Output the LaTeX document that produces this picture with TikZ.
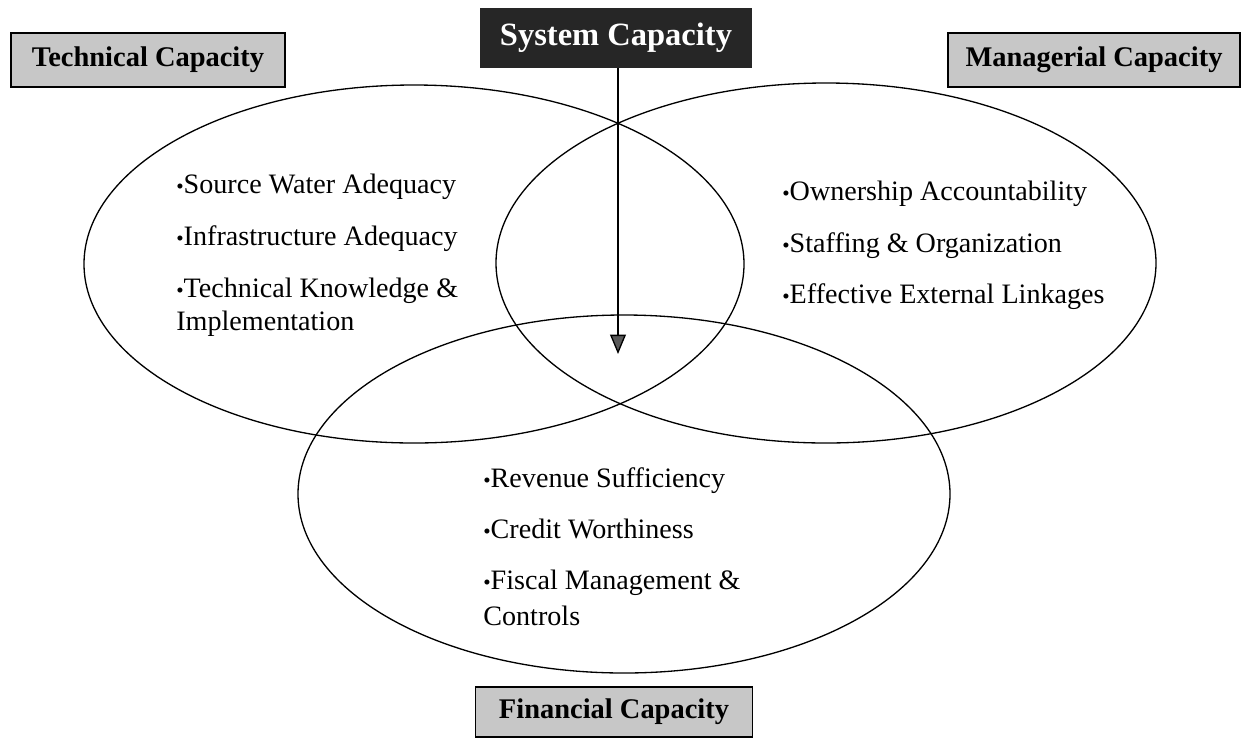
\documentclass[tikz,border=0pt]{standalone}
\usepackage{fontspec}
\setmainfont{Liberation Serif}
\usetikzlibrary{arrows.meta}

\newcommand{\itemdot}{{\fontsize{12}{12}\selectfont\textbullet}}

\tikzset{
  venn/.style={line width=0.75pt},
  capbox/.style={draw=black, line width=0.8pt, fill=black!22, inner sep=0pt,
    minimum height=1.08cm, font=\fontsize{16.2}{19}\selectfont\bfseries},
  sysbox/.style={fill=black!85, text=white, inner sep=0pt,
    minimum width=5.44cm, minimum height=1.2cm, font=\fontsize{18.5}{22}\selectfont\bfseries},
  item/.style={anchor=base west, inner sep=0pt, font=\fontsize{16}{19}\selectfont},
  flow/.style={line width=0.75pt, -{Triangle[width=9pt,length=11pt,fill=black!65]}}
}

\begin{document}
\begin{tikzpicture}[x=0.02cm, y=-0.02cm]
\useasboundingbox (0,0) rectangle (1241,738);

% the three capacities
\draw[venn] (414,264) ellipse [x radius=330, y radius=179];
\draw[venn] (826,263) ellipse [x radius=330, y radius=180];
\draw[venn] (624,494) ellipse [x radius=326, y radius=179];

% headings
\node[sysbox] (system) at (616,38) {System Capacity};
\node[capbox, minimum width=5.48cm] (technical) at (148,60) {Technical Capacity};
\node[capbox, minimum width=5.84cm] (managerial) at (1094,60) {Managerial Capacity};
\node[capbox, minimum width=5.54cm, minimum height=1cm] (financial) at (614,712) {Financial Capacity};

% system capacity points into the middle
\coordinate (centre) at (618,354);
\draw[flow] (system.south -| centre) -- (centre);

% technical
\node[item] (source) at (176,193) {\itemdot Source Water Adequacy};
\node[item] (infra) at (176,245) {\itemdot Infrastructure Adequacy};
\node[item] (knowledge) at (176,297) {\itemdot Technical Knowledge \&};
\node[item] (implement) at (176,330) {Implementation};

% managerial
\node[item] (ownership) at (782,200) {\itemdot Ownership Accountability};
\node[item] (staffing) at (782,252) {\itemdot Staffing \& Organization};
\node[item] (linkages) at (782,303) {\itemdot Effective External Linkages};

% financial
\node[item] (revenue) at (483,487) {\itemdot Revenue Sufficiency};
\node[item] (credit) at (483,538) {\itemdot Credit Worthiness};
\node[item] (fiscal) at (483,589) {\itemdot Fiscal Management \&};
\node[item] (controls) at (483,625) {Controls};

\end{tikzpicture}
\end{document}
